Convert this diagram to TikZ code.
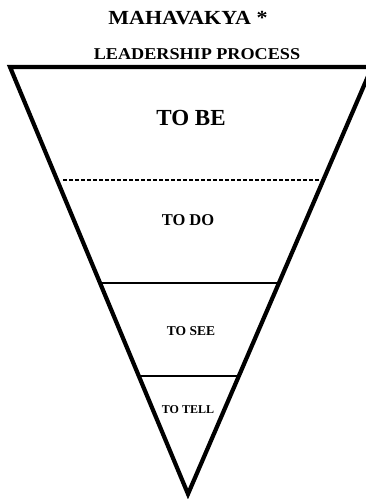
\documentclass[tikz,border=0pt]{standalone}
\usepackage{fontspec}
\setmainfont{Liberation Serif}
\usetikzlibrary{calc}
\tikzset{
  outline/.style={line width=4.2pt, line join=miter},
  divider/.style={line width=2.6pt},
  hatch/.style={line width=2pt, dash pattern=on 4pt off 2pt},
  lbl/.style={inner sep=0pt, anchor=center}
}
\begin{document}
\begin{tikzpicture}[x=1pt,y=-1pt]
\useasboundingbox (0,0) rectangle (365,499);
\coordinate (tl) at (10,67);
\coordinate (tr) at (372,67);
\coordinate (ap) at (188,494);
\draw[outline] (tl) -- (tr) -- (ap) -- cycle;
% dividers
\coordinate (d1l) at ($(tl)!0.2646!(ap)+(6,0)$);
\coordinate (d1r) at ($(tr)!0.2646!(ap)+(-3,0)$);
\coordinate (d2l) at ($(tl)!0.506!(ap)$);
\coordinate (d2r) at ($(tr)!0.506!(ap)$);
\coordinate (d3l) at ($(tl)!0.7237!(ap)$);
\coordinate (d3r) at ($(tr)!0.7237!(ap)$);
\draw[hatch] (d1l) -- (d1r);
\draw[divider] (d2l) -- (d2r);
\draw[divider] (d3l) -- (d3r);
% titles
\node[lbl, xscale=1.1] (title) at (188,18) {\fontsize{20}{22}\selectfont\bfseries MAHAVAKYA *};
\node[lbl, xscale=1.1] (sub) at (197,54) {\fontsize{16.5}{18}\selectfont\bfseries LEADERSHIP PROCESS};
\node[lbl] (be) at (191,118) {\fontsize{23}{26}\selectfont\bfseries TO BE};
\node[lbl] (do) at (188,220) {\fontsize{16.5}{18}\selectfont\bfseries TO DO};
\node[lbl] (see) at (191,331) {\fontsize{13.5}{15}\selectfont\bfseries TO SEE};
\node[lbl] (tell) at (188,410) {\fontsize{12}{14}\selectfont\bfseries TO TELL};
\end{tikzpicture}
\end{document}
